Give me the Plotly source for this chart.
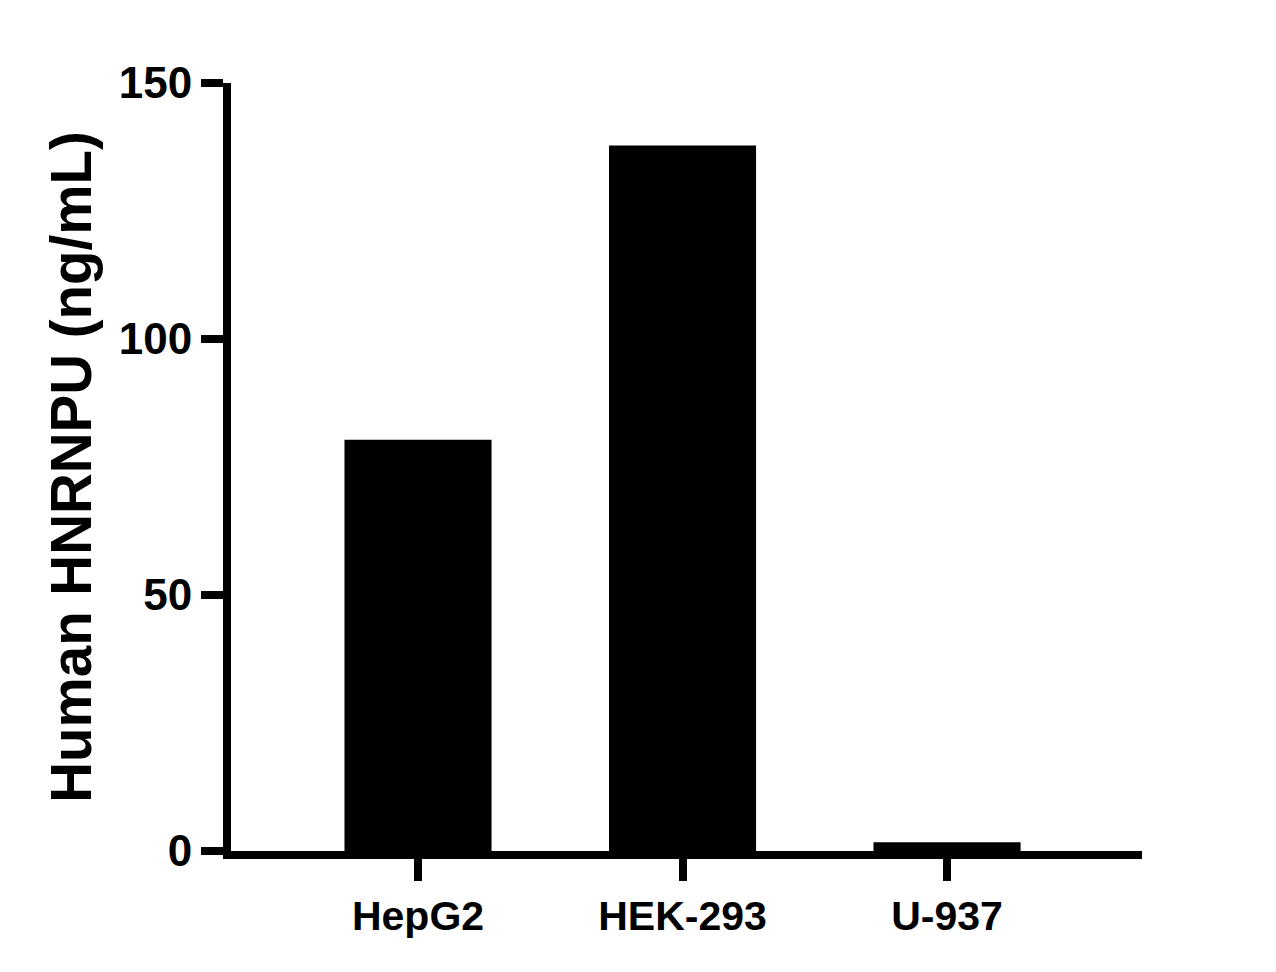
import plotly.graph_objects as go

categories = ["HepG2", "HEK-293", "U-937"]
values = [80.3, 137.8, 1.7]
y_ticks = [0, 50, 100, 150]
y_title = "Human HNRNPU (ng/mL)"

FONT = "Liberation Sans, Arial, sans-serif"

fig = go.Figure(
    go.Bar(
        x=categories,
        y=values,
        marker=dict(color="black", line=dict(width=0)),
    )
)

fig.update_layout(
    width=1276,
    height=972,
    paper_bgcolor="white",
    plot_bgcolor="white",
    bargap=0.444,
    margin=dict(l=223, r=142, t=75, b=129, autoexpand=False),
    showlegend=False,
    font=dict(family=FONT, color="black"),
)

fig.update_xaxes(
    range=[-0.707, 2.737],
    showline=True,
    linewidth=8,
    linecolor="black",
    ticks="outside",
    ticklen=22,
    tickwidth=8,
    tickcolor="black",
    showgrid=False,
    zeroline=False,
    tickfont=dict(family=FONT, size=41, color="black", weight="bold"),
)

fig.update_yaxes(
    range=[0, 150],
    tickvals=y_ticks,
    showline=True,
    linewidth=8,
    linecolor="black",
    ticks="outside",
    ticklen=22,
    tickwidth=8,
    tickcolor="black",
    showgrid=False,
    zeroline=False,
    tickfont=dict(family=FONT, size=44, color="black", weight="bold"),
    title=dict(text=y_title, font=dict(family=FONT, size=56.5, color="black", weight="bold"), standoff=12),
)

fig.write_html("out.html")
